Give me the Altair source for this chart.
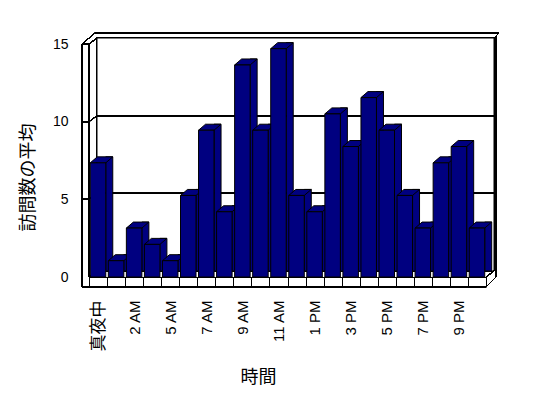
import altair as alt
import pandas as pd

# ---- data ----
hours = ["真夜中", "1 AM", "2 AM", "3 AM", "5 AM", "6 AM", "7 AM", "8 AM", "9 AM", "10 AM", "11 AM",
         "12 PM", "1 PM", "2 PM", "3 PM", "4 PM", "5 PM", "6 PM", "7 PM", "8 PM", "9 PM", "10 PM"]
visits = [7.35, 1.05, 3.15, 2.1, 1.05, 5.25, 9.45, 4.2, 13.65, 9.45, 14.7,
          5.25, 4.2, 10.5, 8.4, 11.55, 9.45, 5.25, 3.15, 7.35, 8.4, 3.15]
y_ticks = [0, 5, 10, 15]
shown_labels = hours[::2]

x_title = "時間"
y_title = "訪問数の平均"

df = pd.DataFrame({"hour": hours, "visits": visits})

# ---- layout / style ----
W, H = 397, 233
NAVY = "#000080"
FRONT_W = 15.5
DEPTH_X, DEPTH_Y = 7, 6      # bar depth
WALL_X, WALL_Y = 8, 6        # wall depth
JP = "Noto Sans CJK JP"
LAT = "Liberation Sans, Noto Sans CJK JP"

label_list = "[" + ",".join("'" + s + "'" for s in shown_labels) + "]"

x_enc = alt.X("hour:N", sort=hours,
              scale=alt.Scale(paddingInner=0, paddingOuter=0),
              axis=alt.Axis(title=x_title, labelAngle=-90, labelPadding=13,
                            labelExpr=f"indexof({label_list}, datum.label) >= 0 ? datum.label : ''",
                            labelFont=LAT,
                            labelFontSize={"condition": {"test": f"datum.value == '{hours[0]}'",
                                                         "value": 17}, "value": 15},
                            labelColor="black",
                            tickBand="extent", tickSize=10, tickColor="black", tickWidth=1,
                            domain=True, domainColor="black", domainWidth=1,
                            titleFont=JP, titleFontSize=18, titleFontWeight="normal",
                            titleColor="black", titleX=169, titleY=100,
                            titleBaseline="middle", titleAlign="center",
                            grid=False, labelOverlap=False))
y_scale = alt.Scale(domain=[0, 15], nice=False, zero=True)
y_enc = alt.Y("visits:Q", scale=y_scale,
              axis=alt.Axis(title=y_title, values=y_ticks, domain=False, ticks=False,
                            grid=False, labelPadding=21, labelFont=LAT, labelFontSize=14,
                            labelColor="black",
                            titleFont=JP, titleFontSize=18, titleFontWeight="normal",
                            titleColor="black", titleX=-61, titleY=133,
                            titleBaseline="middle", titleAlign="center"))

base = alt.Chart(df)


def seg(x1, x2, v1, v2, o1=0, o2=0):
    return alt.Chart(df).mark_rule(color="black", strokeWidth=1,
                                   yOffset=o1, y2Offset=o2).encode(
        x=alt.value(x1), x2=alt.value(x2),
        y=alt.datum(v1, scale=y_scale), y2=alt.datum(v2))


frame = []
# back wall
frame.append(alt.Chart(df).mark_rect(fill="white", stroke="black", strokeWidth=1,
                                     yOffset=-WALL_Y, y2Offset=-WALL_Y).encode(
    x=alt.value(WALL_X), x2=alt.value(W + WALL_X),
    y=alt.datum(15, scale=y_scale), y2=alt.datum(0)))
# gridlines on the back wall + left wall
for v in [5, 10]:
    frame.append(seg(WALL_X, W + WALL_X, v, v, -WALL_Y, -WALL_Y))
for v in [0, 5, 10, 15]:
    frame.append(seg(0, WALL_X, v, v, 0, -WALL_Y))
for v in [5, 10, 15]:
    frame.append(seg(-7, 0, v, v))
frame.append(seg(-7, -7, 15, 0, 0, 10))          # left outer edge
frame.append(seg(0, 0, 15, 0))                   # front left edge
frame.append(seg(-7, W, 0, 0, 10, 10))           # floor bottom edge
frame.append(seg(W, W + 10, 0, 0, 10, 0))        # floor right diagonal
frame.append(seg(W, W + WALL_X, 0, 0, 0, -WALL_Y))
frame.append(seg(W + 10, W + 10, 15, 0, -8, 0))  # right outer edge
frame.append(seg(6, W + 13, 15, 15, -11, -11))   # top outer edge
frame.append(seg(-7, 6, 15, 15, 0, -11))         # top-left outer diagonal
frame.append(seg(W + WALL_X, W + 13, 15, 15, -WALL_Y, -11))
frame.append(seg(W + 13, W + 10, 15, 15, -11, -8))

# bars: side faces, top faces, front faces
side = base.mark_bar(width=DEPTH_X, xOffset=FRONT_W / 2 + DEPTH_X / 2, yOffset=-DEPTH_Y,
                     fill=NAVY, stroke="black", strokeWidth=1).encode(x=x_enc, y=y_enc)

hw = FRONT_W / 2 / 10
dx, dy = DEPTH_X / 10, DEPTH_Y / 10
top_path = f"M{-hw},0 L{hw},0 L{hw + dx},{-dy} L{-hw + dx},{-dy} Z"
top = base.mark_point(shape=top_path, size=400, filled=True, fill=NAVY, fillOpacity=1,
                      opacity=1, stroke="black", strokeWidth=1).encode(x=x_enc, y=y_enc)

front = base.mark_bar(width=FRONT_W, fill=NAVY, stroke="black", strokeWidth=1).encode(
    x=x_enc, y=y_enc)

chart = alt.layer(*frame, side, top, front).properties(
    width=W, height=H,
    autosize=alt.AutoSizeParams(type="none"),
    padding={"left": 81, "top": 36, "right": 40, "bottom": 110},
    background="white",
).configure_view(stroke=None)

chart.save("out.html", embed_options={"renderer": "svg", "actions": False})
